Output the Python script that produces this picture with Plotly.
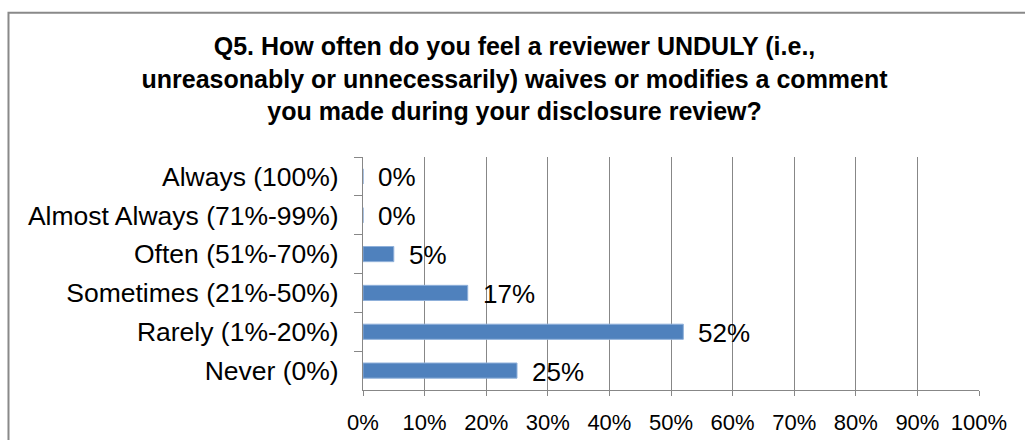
import plotly.graph_objects as go

# Survey responses, listed top to bottom as displayed
categories = [
    "Always (100%)",
    "Almost Always (71%-99%)",
    "Often (51%-70%)",
    "Sometimes (21%-50%)",
    "Rarely (1%-20%)",
    "Never (0%)",
]
shares = [0, 0, 5, 17, 52, 25]  # percent of respondents
x_ticks = list(range(0, 101, 10))
x_tick_labels = [f"{v}%" for v in x_ticks]

title_lines = [
    "Q5. How often do you feel a reviewer UNDULY (i.e.,",
    "unreasonably or unnecessarily) waives or modifies a comment",
    "you made during your disclosure review?",
]

FONT = "Arial, Liberation Sans, Helvetica, sans-serif"
GRID = "#878787"
BAR = "#4F81BD"

fig = go.Figure()
fig.add_trace(
    go.Bar(
        x=shares,
        y=categories,
        orientation="h",
        width=0.39,
        marker=dict(color=BAR, line=dict(color="#8FB0DA", width=1)),
        hoverinfo="x+y",
        showlegend=False,
    )
)

# value labels placed just past the end of each bar
for cat, val in zip(categories, shares):
    fig.add_annotation(
        x=val, y=cat, xref="x", yref="y",
        text=f"{val}%", showarrow=False,
        xanchor="left", yanchor="middle", xshift=13, yshift=-1,
        font=dict(family=FONT, size=26, color="#000000"),
    )

# outer chart frame (right and bottom edges fall outside the page)
fig.add_shape(
    type="rect", xref="paper", yref="paper",
    x0=-0.5755, x1=1.3, y0=-0.6, y1=1.619,
    line=dict(color="#898989", width=2), fillcolor="rgba(0,0,0,0)",
    layer="above",
)

fig.update_layout(
    width=1025,
    height=440,
    margin=dict(l=363, r=46, t=157, b=50),
    paper_bgcolor="white",
    plot_bgcolor="white",
    font=dict(family=FONT, color="#000000"),
    title=dict(
        text="<br>".join(title_lines),
        font=dict(family=FONT, size=25, color="#000000", weight="bold"),
        x=0.502, xanchor="center", xref="container",
        y=1 - 55 / 440, yanchor="top", yref="container",
    ),
)

fig.update_xaxes(
    range=[0, 100],
    tickvals=x_ticks,
    ticktext=x_tick_labels,
    tickfont=dict(family=FONT, size=22, color="#000000"),
    showgrid=True, gridcolor=GRID, gridwidth=1,
    showline=True, linecolor=GRID, linewidth=1,
    ticks="outside", ticklen=5, tickcolor=GRID,
    ticklabelstandoff=8,
    zeroline=False,
    automargin=False,
    fixedrange=True,
)
fig.update_yaxes(
    categoryorder="array",
    categoryarray=categories,
    autorange="reversed",
    tickfont=dict(family=FONT, size=26.5, color="#000000"),
    showgrid=False,
    showline=True, linecolor=GRID, linewidth=1,
    ticks="outside", ticklen=8, tickcolor=GRID,
    tickson="boundaries",
    ticklabelstandoff=18,
    automargin=False,
    fixedrange=True,
)

fig.write_html("out.html", config={"displayModeBar": False})
